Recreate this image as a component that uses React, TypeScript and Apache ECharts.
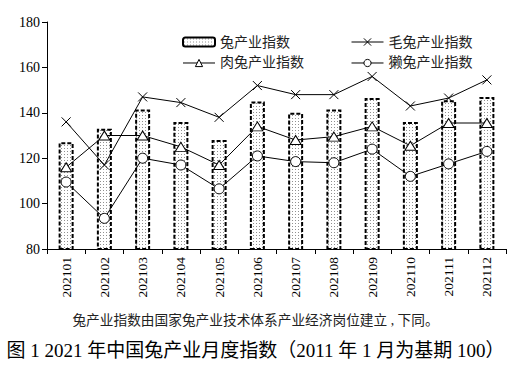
import React, { useEffect, useRef } from "react";
import * as echarts from "echarts";

const categories = ["202101","202102","202103","202104","202105","202106","202107","202108","202109","202110","202111","202112"];
const rabbitIndex = [127, 133, 141.5, 136, 128, 145, 140, 141.5, 146.5, 136, 145.5, 147];
const angoraIndex = [136, 117, 147, 144.5, 138, 152, 148, 148, 156, 143, 146.5, 154.5];
const meatIndex = [116, 130, 130, 125, 117, 134, 128, 129.5, 134, 125.5, 135.5, 135.5];
const rexIndex = [109.5, 93.5, 120, 117, 106.5, 121, 118.5, 118, 124, 112, 117.5, 123];
const yTicks = [80, 100, 120, 140, 160, 180];

const serif = "'Liberation Serif', 'Noto Sans CJK SC', serif";

export default function App() {
  const ref = useRef<HTMLDivElement>(null);
  useEffect(() => {
    if (!ref.current) return;
    const chart = echarts.init(ref.current, undefined, { renderer: "svg" });
    const cv = document.createElement("canvas");
    cv.width = 3;
    cv.height = 3;
    const ctx = cv.getContext("2d")!;
    ctx.fillStyle = "#ffffff";
    ctx.fillRect(0, 0, 3, 3);
    ctx.fillStyle = "#909090";
    ctx.fillRect(1, 1, 1, 1);
    const pattern: any = { image: cv, repeat: "repeat" };
    const xSym = "path://M0,0L10,10M10,0L0,10";
    const lineCommon = {
      type: "line" as const,
      symbolSize: 9,
      lineStyle: { color: "#000", width: 1 },
      itemStyle: { color: "#fff", borderColor: "#000", borderWidth: 1 },
      z: 3,
    };
    const legendCommon = {
      orient: "vertical" as const,
      top: 30,
      itemWidth: 32,
      itemHeight: 9,
      itemGap: 7,
      lineStyle: { width: 1, color: "#000" },
      itemStyle: { borderWidth: 1 },
      textStyle: { fontFamily: serif, fontSize: 14, color: "#222" },
    };
    chart.setOption({
      animation: false,
      textStyle: { fontFamily: serif },
      grid: { left: 47, right: 5, top: 22, bottom: 126 },
      legend: [
        {
          ...legendCommon,
          left: 177,
          data: [{ name: "兔产业指数", itemStyle: { borderWidth: 2 } }, { name: "肉兔产业指数" }],
        },
        { ...legendCommon, left: 346, data: ["毛兔产业指数", "獭兔产业指数"] },
      ],
      xAxis: {
        type: "category",
        data: categories,
        boundaryGap: true,
        axisLine: { lineStyle: { color: "#000", width: 1 } },
        axisTick: { show: true, alignWithLabel: false, length: 5, lineStyle: { color: "#000" } },
        axisLabel: { rotate: 90, fontSize: 13.5, color: "#000", fontFamily: serif, margin: 8 },
      },
      yAxis: {
        type: "value",
        min: yTicks[0],
        max: yTicks[yTicks.length - 1],
        interval: 20,
        splitLine: { show: false },
        axisLine: { show: true, lineStyle: { color: "#000", width: 1 } },
        axisTick: { show: true, length: 5, lineStyle: { color: "#000" } },
        axisLabel: { fontSize: 14, color: "#000", fontFamily: serif, margin: 7 },
      },
      series: [
        {
          name: "兔产业指数",
          type: "bar",
          data: rabbitIndex,
          barWidth: 15,
          itemStyle: {
            color: pattern,
            borderColor: "#000",
            borderWidth: 2,
            borderType: [4, 2],
          },
          z: 2,
        },
        { ...lineCommon, name: "毛兔产业指数", data: angoraIndex, symbol: xSym, symbolSize: 9, itemStyle: { color: "none", borderColor: "#000", borderWidth: 1 } },
        { ...lineCommon, name: "肉兔产业指数", data: meatIndex, symbol: "triangle", symbolSize: [11, 9] },
        { ...lineCommon, name: "獭兔产业指数", data: rexIndex, symbol: "circle", symbolSize: 10 },
      ],
      graphic: [
        {
          type: "text",
          left: "center",
          top: 314,
          style: { text: "兔产业指数由国家兔产业技术体系产业经济岗位建立 , 下同。", fontSize: 13.7, fill: "#222", fontFamily: serif },
        },
        {
          type: "text",
          left: "center",
          top: 341,
          style: { text: "图 1 2021 年中国兔产业月度指数（2011 年 1 月为基期 100）", fontSize: 19, fill: "#000", fontFamily: serif },
        },
      ],
    });
    return () => chart.dispose();
  }, []);
  return <div ref={ref} style={{ width: 511, height: 375, position: "absolute", left: 0, top: 0 }} />;
}
